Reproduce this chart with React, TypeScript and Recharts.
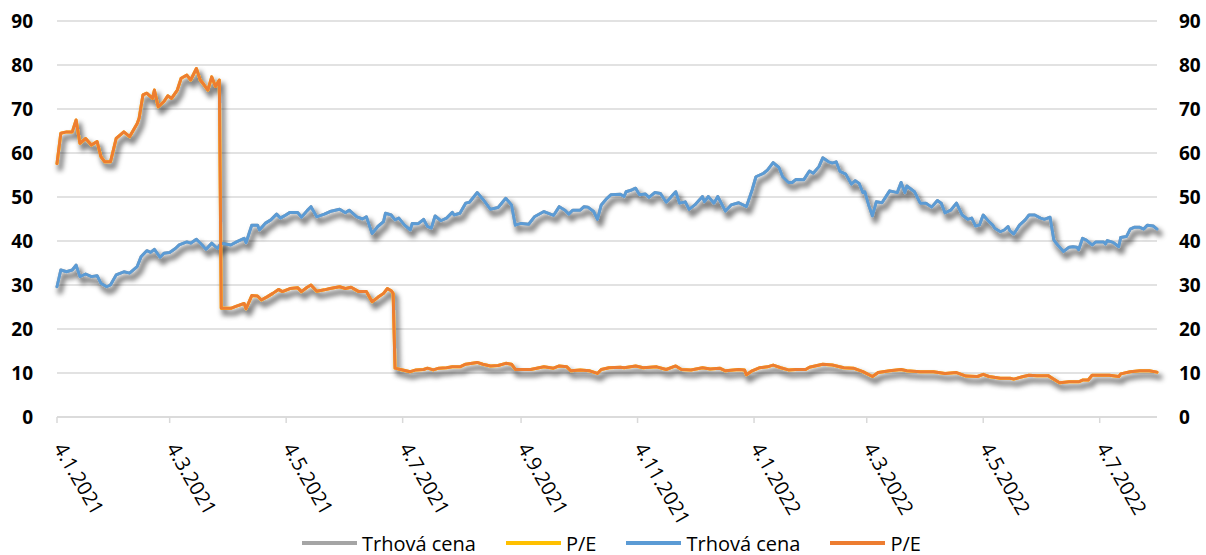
import React from 'react';
import { LineChart, Line, XAxis, YAxis, CartesianGrid, Legend } from 'recharts';

// ---- Data ----
const priceDates = [
  '2021-01-04','2021-01-06','2021-01-09','2021-01-12','2021-01-14','2021-01-16','2021-01-19','2021-01-22','2021-01-25','2021-01-27','2021-01-30',
  '2021-02-01','2021-02-04','2021-02-08','2021-02-11','2021-02-15','2021-02-17','2021-02-20','2021-02-22','2021-02-24','2021-02-27',
  '2021-03-01','2021-03-04','2021-03-07','2021-03-09','2021-03-13','2021-03-15','2021-03-18','2021-03-21','2021-03-23','2021-03-26','2021-03-29','2021-03-31',
  '2021-04-05','2021-04-08','2021-04-12','2021-04-13','2021-04-16','2021-04-19','2021-04-20','2021-04-23','2021-04-26','2021-04-29',
  '2021-05-01','2021-05-03','2021-05-06','2021-05-10','2021-05-12','2021-05-15','2021-05-17','2021-05-20','2021-05-24','2021-05-27',
  '2021-06-01','2021-06-04','2021-06-06','2021-06-10','2021-06-13','2021-06-15','2021-06-18','2021-06-21','2021-06-24','2021-06-25','2021-06-28','2021-06-30',
  '2021-07-02','2021-07-05','2021-07-08','2021-07-09','2021-07-12','2021-07-15','2021-07-17','2021-07-19','2021-07-21','2021-07-24','2021-07-27','2021-07-30','2021-07-31',
  '2021-08-03','2021-08-06','2021-08-08','2021-08-12','2021-08-15','2021-08-19','2021-08-23','2021-08-27','2021-08-30',
  '2021-09-01','2021-09-04','2021-09-08','2021-09-11','2021-09-16','2021-09-21','2021-09-24','2021-09-27','2021-09-29',
  '2021-10-01','2021-10-05','2021-10-07','2021-10-09','2021-10-12','2021-10-14','2021-10-16','2021-10-19','2021-10-21','2021-10-26','2021-10-28','2021-10-29',
  '2021-11-01','2021-11-03','2021-11-05','2021-11-08','2021-11-10','2021-11-13','2021-11-16','2021-11-19','2021-11-24','2021-11-26','2021-11-29',
  '2021-12-01','2021-12-04','2021-12-08','2021-12-09','2021-12-11','2021-12-14','2021-12-16','2021-12-20','2021-12-23','2021-12-27','2021-12-31',
  '2022-01-03','2022-01-05','2022-01-09','2022-01-11','2022-01-14','2022-01-17','2022-01-19','2022-01-22','2022-01-24','2022-01-26','2022-01-30',
  '2022-02-02','2022-02-04','2022-02-07','2022-02-09','2022-02-12','2022-02-14','2022-02-16','2022-02-18','2022-02-21','2022-02-24','2022-02-26','2022-02-28',
  '2022-03-02','2022-03-03','2022-03-05','2022-03-07','2022-03-09','2022-03-12','2022-03-16','2022-03-20','2022-03-22','2022-03-24','2022-03-25','2022-03-29',
  '2022-04-01','2022-04-04','2022-04-07','2022-04-10','2022-04-12','2022-04-14','2022-04-17','2022-04-20','2022-04-23','2022-04-26','2022-04-28','2022-04-30',
  '2022-05-02','2022-05-04','2022-05-07','2022-05-09','2022-05-10','2022-05-13','2022-05-15','2022-05-17','2022-05-18','2022-05-20','2022-05-23','2022-05-26','2022-05-28','2022-05-31',
  '2022-06-03','2022-06-05','2022-06-08','2022-06-10','2022-06-12','2022-06-15','2022-06-18','2022-06-20','2022-06-22','2022-06-23','2022-06-25','2022-06-27','2022-06-30',
  '2022-07-02','2022-07-06','2022-07-07','2022-07-08','2022-07-11','2022-07-14','2022-07-15','2022-07-18','2022-07-20','2022-07-22','2022-07-25','2022-07-27','2022-07-29',
  '2022-08-01','2022-08-03',
];

const priceValues = [
  29.6,33.4,33.0,33.4,34.5,31.9,32.5,31.9,32.1,30.4,29.6,
  30.0,32.3,33.0,32.7,34.2,36.4,37.8,37.4,38.1,36.3,
  37.2,37.4,38.3,39.1,39.8,39.5,40.4,39.1,38.1,39.5,38.3,39.5,
  39.1,39.8,40.6,39.6,43.6,43.6,42.5,44.0,44.8,46.1,
  45.2,45.7,46.5,46.5,45.4,46.9,47.8,45.5,46.1,46.7,
  47.2,46.4,47.0,45.5,45.0,45.5,41.7,43.3,44.4,46.3,45.9,44.8,
  45.2,43.6,42.5,44.0,43.9,44.9,43.3,42.9,45.7,44.6,45.2,46.5,45.9,
  46.3,48.6,48.8,51.0,49.5,47.2,47.6,49.7,48.2,
  43.6,44.0,43.8,45.5,46.7,45.8,47.8,47.0,46.1,
  47.0,47.0,47.8,47.7,46.7,44.9,48.2,49.7,50.5,50.6,50.1,51.2,
  51.6,52.0,50.5,50.7,49.9,51.0,50.8,48.8,51.2,48.6,48.9,
  47.2,48.2,50.1,48.9,50.1,48.6,50.1,46.8,48.2,48.7,47.8,
  51.6,54.6,55.4,56.1,57.8,56.7,54.6,53.3,53.3,54.0,53.9,
  55.9,55.4,56.9,58.9,58.0,57.7,58.0,55.8,55.2,52.9,53.7,53.1,
  51.0,51.2,48.2,45.7,48.9,48.7,51.4,51.0,53.3,51.0,52.5,51.2,
  48.6,48.6,47.7,49.2,48.6,46.4,47.0,48.6,45.9,44.9,45.2,43.4,
  43.6,45.9,44.4,43.6,42.9,42.1,42.5,43.3,42.3,41.6,43.6,44.8,45.9,45.9,
  45.2,44.9,45.4,40.2,39.1,37.6,38.6,38.7,38.6,38.0,40.6,40.2,39.1,
  39.8,39.8,39.3,40.1,39.7,38.7,40.8,41.0,42.7,43.1,43.1,42.7,43.6,
  43.4,42.7,
];

const peDates = [
  '2021-01-04','2021-01-06','2021-01-09','2021-01-12','2021-01-14','2021-01-16','2021-01-19','2021-01-22','2021-01-25','2021-01-27','2021-01-29',
  '2021-02-01','2021-02-04','2021-02-08','2021-02-11','2021-02-15','2021-02-16','2021-02-18','2021-02-20','2021-02-23','2021-02-24','2021-02-26',
  '2021-03-01','2021-03-03','2021-03-05','2021-03-08','2021-03-10','2021-03-13','2021-03-15','2021-03-18','2021-03-20','2021-03-22','2021-03-24','2021-03-26','2021-03-28','2021-03-30','2021-03-31',
  '2021-04-05','2021-04-08','2021-04-12','2021-04-13','2021-04-16','2021-04-19','2021-04-21','2021-04-24','2021-04-27','2021-04-30',
  '2021-05-02','2021-05-06','2021-05-10','2021-05-12','2021-05-15','2021-05-17','2021-05-20','2021-05-24','2021-05-27',
  '2021-06-01','2021-06-04','2021-06-07','2021-06-11','2021-06-15','2021-06-18','2021-06-21','2021-06-24','2021-06-26','2021-06-28','2021-06-29','2021-06-30',
  '2021-07-04','2021-07-08','2021-07-11','2021-07-15','2021-07-17','2021-07-20','2021-07-23','2021-07-27','2021-07-30',
  '2021-08-03','2021-08-06','2021-08-12','2021-08-15','2021-08-19','2021-08-23','2021-08-27','2021-08-30',
  '2021-09-01','2021-09-05','2021-09-09','2021-09-16','2021-09-21','2021-09-24','2021-09-28','2021-09-30',
  '2021-10-05','2021-10-10','2021-10-14','2021-10-16','2021-10-20','2021-10-26','2021-10-28',
  '2021-11-03','2021-11-07','2021-11-14','2021-11-19','2021-11-24','2021-11-27',
  '2021-12-02','2021-12-08','2021-12-12','2021-12-17','2021-12-20','2021-12-27','2021-12-30','2021-12-31',
  '2022-01-03','2022-01-07','2022-01-11','2022-01-14','2022-01-18','2022-01-22','2022-01-26','2022-01-31',
  '2022-02-02','2022-02-09','2022-02-14','2022-02-20','2022-02-25',
  '2022-03-02','2022-03-07','2022-03-10','2022-03-16','2022-03-22','2022-03-25',
  '2022-04-01','2022-04-08','2022-04-14','2022-04-20','2022-04-25',
  '2022-05-01','2022-05-04','2022-05-07','2022-05-13','2022-05-18','2022-05-20','2022-05-25','2022-05-28',
  '2022-06-01','2022-06-07','2022-06-10','2022-06-13','2022-06-18','2022-06-23','2022-06-25','2022-06-28','2022-06-30',
  '2022-07-04','2022-07-09','2022-07-14','2022-07-15','2022-07-20','2022-07-25','2022-07-30',
  '2022-08-03',
];

const peValues = [
  57.6,64.5,64.8,64.8,67.5,62.2,63.3,61.8,62.6,59.2,58.0,
  58.0,63.3,64.8,63.7,66.7,67.9,73.2,73.6,72.4,74.3,70.5,
  71.7,73.0,72.4,74.3,77.0,77.7,76.6,79.2,76.6,75.5,74.3,77.3,75.1,76.6,24.7,
  24.7,25.2,25.8,24.6,27.6,27.5,26.6,27.3,28.1,29.0,
  28.5,29.2,29.4,28.5,29.5,30.0,28.6,28.9,29.2,
  29.6,29.2,29.5,28.5,28.5,26.2,27.2,28.1,29.2,28.7,28.1,11.1,
  10.7,10.3,10.7,10.8,11.1,10.7,11.1,11.2,11.4,
  11.4,12.0,12.4,12.0,11.6,11.7,12.2,12.0,
  10.8,10.8,10.8,11.4,11.1,11.6,11.4,10.5,
  10.7,10.5,9.9,10.8,11.2,11.3,11.2,
  11.6,11.2,11.4,10.8,11.6,10.8,
  10.7,11.2,10.9,11.1,10.5,10.8,10.7,9.6,
  10.5,11.2,11.4,11.8,11.2,10.7,10.8,10.8,
  11.3,12.0,11.8,11.2,11.1,
  10.3,9.2,10.1,10.5,10.8,10.5,
  10.3,10.3,9.9,10.1,9.3,
  9.2,9.7,9.2,8.8,8.8,8.6,9.2,9.5,
  9.4,9.4,8.6,7.8,8.0,8.0,8.4,8.4,9.5,
  9.5,9.5,9.2,9.8,10.3,10.5,10.5,
  10.2,
];

const xTickDates = [
  '2021-01-04','2021-03-04','2021-05-04','2021-07-04','2021-09-04',
  '2021-11-04','2022-01-04','2022-03-04','2022-05-04','2022-07-04',
];
const yTicks = [0, 10, 20, 30, 40, 50, 60, 70, 80, 90];

const seriesConfig = [
  { id: 'priceBase', name: 'Trhová cena', color: '#A5A5A5', kind: 'price', axis: 'left', shadow: true },
  { id: 'peBase', name: 'P/E', color: '#FFC000', kind: 'pe', axis: 'left', shadow: true },
  { id: 'priceTop', name: 'Trhová cena', color: '#5B9BD5', kind: 'price', axis: 'right', shadow: false },
  { id: 'peTop', name: 'P/E', color: '#ED7D31', kind: 'pe', axis: 'right', shadow: false },
];

// ---- Helpers ----
const toTime = (s: string) => {
  const [y, m, d] = s.split('-').map(Number);
  return Date.UTC(y, m - 1, d);
};
const fmtDate = (t: number) => {
  const d = new Date(t);
  return `${d.getUTCDate()}.${d.getUTCMonth() + 1}.${d.getUTCFullYear()}`;
};

const priceData = priceDates.map((d, i) => ({ t: toTime(d), v: priceValues[i] }));
const peData = peDates.map((d, i) => ({ t: toTime(d), v: peValues[i] }));
const dataByKind: Record<string, { t: number; v: number }[]> = { price: priceData, pe: peData };
const xTicks = xTickDates.map(toTime);
const xDomain = [toTime(priceDates[0]), toTime(priceDates[priceDates.length - 1])];

const FONT = '"Open Sans", "Noto Sans", sans-serif';

const XTick = (props: any) => {
  const { x, y, payload } = props;
  const ax = x - 4;
  const ay = y + 23;
  return (
    <text
      x={ax}
      y={ay}
      transform={`rotate(60, ${ax}, ${ay})`}
      textAnchor="start"
      fontFamily={FONT}
      fontSize={20}
      fill="#000"
    >
      {fmtDate(payload.value)}
    </text>
  );
};

const LegendContent = () => (
  <div
    style={{
      display: 'flex',
      alignItems: 'center',
      height: 30,
      paddingLeft: 302,
      paddingTop: 6,
      boxSizing: 'border-box',
      fontFamily: FONT,
      fontSize: 20,
      color: '#000',
      whiteSpace: 'nowrap',
    }}
  >
    {seriesConfig.map((s, i) => (
      <div key={s.id} style={{ display: 'flex', alignItems: 'center', marginRight: i < seriesConfig.length - 1 ? 30 : 0 }}>
        <div style={{ width: 55, height: 4, background: s.color, marginRight: 5 }} />
        <span>{s.name}</span>
      </div>
    ))}
  </div>
);

export default function App() {
  return (
    <div style={{ position: 'absolute', left: 0, top: 0, width: 1206, height: 555, background: '#fff' }}>
      <style>{`.xl-shadow { filter: url(#xlShadow); }`}</style>
      <LineChart width={1206} height={555} margin={{ top: 21, right: 0, bottom: 0, left: 0 }}>
        <defs>
          <filter id="xlShadow" filterUnits="userSpaceOnUse" x="0" y="0" width="1206" height="555">
            <feMorphology in="SourceAlpha" operator="dilate" radius="1.2" result="d" />
            <feGaussianBlur in="d" stdDeviation="2.6" result="b" />
            <feOffset in="b" dx="3" dy="5" result="o" />
            <feFlood floodColor="#000" floodOpacity="0.5" result="f" />
            <feComposite in="f" in2="o" operator="in" result="s" />
            <feMerge>
              <feMergeNode in="s" />
              <feMergeNode in="SourceGraphic" />
            </feMerge>
          </filter>
        </defs>
        <CartesianGrid yAxisId="left" vertical={false} stroke="#d9d9d9" strokeWidth={1.5} />
        <XAxis
          dataKey="t"
          type="number"
          domain={xDomain}
          ticks={xTicks}
          interval={0}
          height={108}
          axisLine={{ stroke: '#d9d9d9', strokeWidth: 1.5 }}
          tickLine={{ stroke: '#d9d9d9', strokeWidth: 1.5 }}
          tickSize={6}
          tickMargin={2}
          tick={<XTick />}
          allowDuplicatedCategory={false}
        />
        <YAxis
          yAxisId="left"
          orientation="left"
          domain={[0, 90]}
          ticks={yTicks}
          width={57}
          axisLine={false}
          tickLine={false}
          tickSize={0}
          tickMargin={24}
          tick={{ fontFamily: FONT, fontSize: 19, fontWeight: 700, fill: '#000' }}
        />
        <YAxis
          yAxisId="right"
          orientation="right"
          domain={[0, 90]}
          ticks={yTicks}
          width={49}
          axisLine={false}
          tickLine={false}
          tickSize={0}
          tickMargin={22}
          tick={{ fontFamily: FONT, fontSize: 19, fontWeight: 700, fill: '#000', textAnchor: 'start' }}
        />
        <Legend verticalAlign="bottom" align="left" content={<LegendContent />} wrapperStyle={{ height: 30 }} />
        {seriesConfig.map((s) => (
          <Line
            key={s.id}
            data={dataByKind[s.kind]}
            dataKey="v"
            name={s.name}
            yAxisId={s.axis}
            type="linear"
            stroke={s.color}
            strokeWidth={3}
            strokeLinejoin="round"
            strokeLinecap="round"
            dot={false}
            activeDot={false}
            className={s.shadow ? 'xl-shadow' : undefined}
            isAnimationActive={false}
          />
        ))}
      </LineChart>
    </div>
  );
}
